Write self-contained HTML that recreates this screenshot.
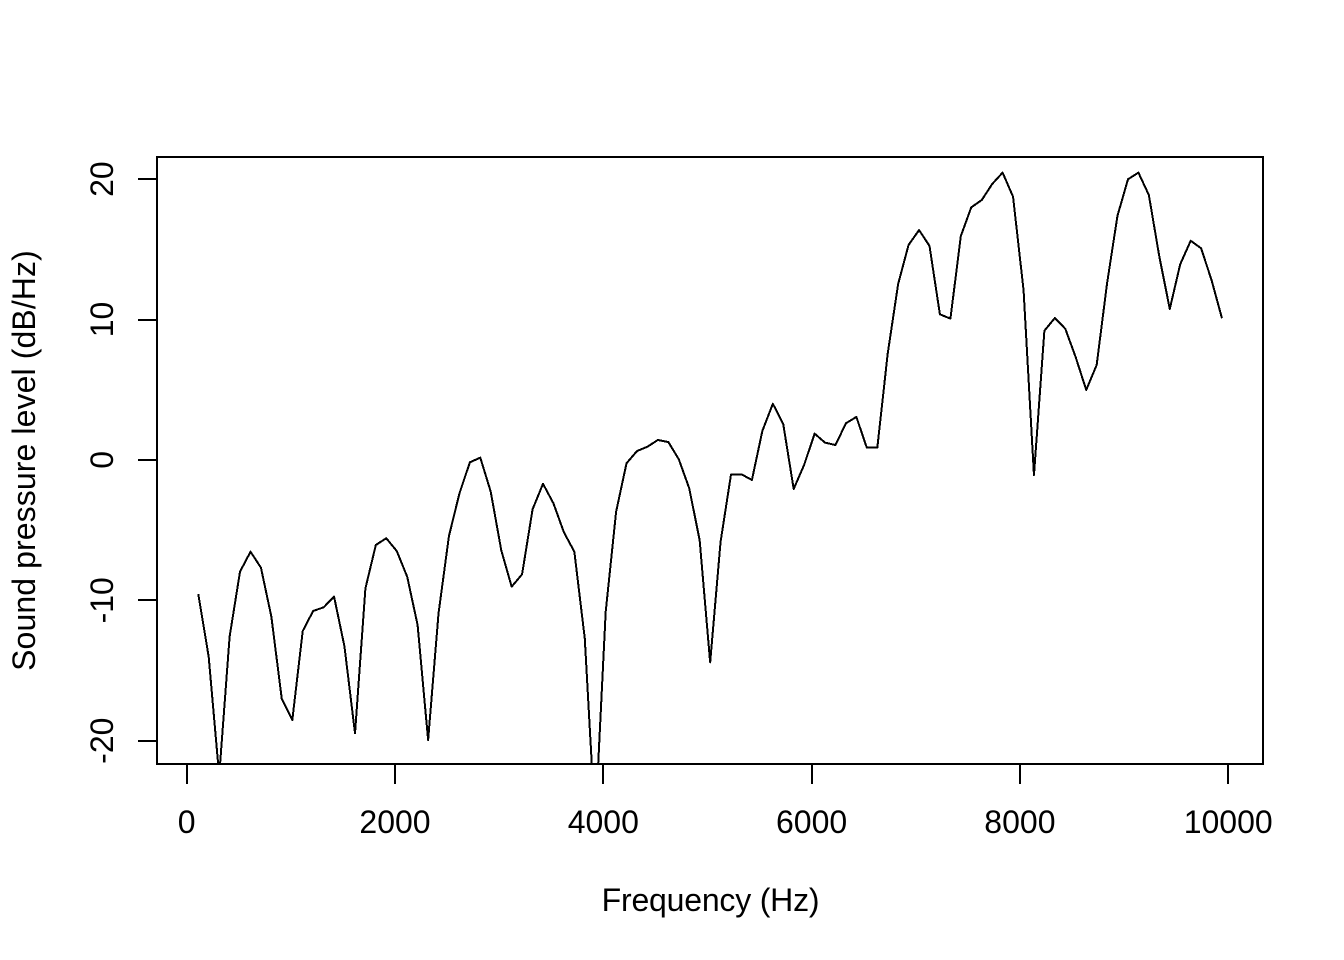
<!DOCTYPE html>
<html lang="en">
<head>
<meta charset="utf-8">
<title>Sound pressure level spectrum</title>
<style>
html,body{margin:0;padding:0;background:#fff;width:1344px;height:960px;overflow:hidden}
svg{display:block}
text{font-family:"Liberation Sans",Arial,sans-serif;font-size:32px;fill:#000}
line,rect,polyline{shape-rendering:crispEdges}
</style>
</head>
<body>
<svg id="chart" xmlns="http://www.w3.org/2000/svg" width="1344" height="960" viewBox="0 0 1344 960">
  <defs><clipPath id="plot-clip"><rect x="157" y="157" width="1106" height="607"></rect></clipPath></defs>
  <rect x="0" y="0" width="1344" height="960" fill="#fff"></rect>
  <g id="series" clip-path="url(#plot-clip)"></g>
  <rect x="157" y="157" width="1106" height="607" fill="none" stroke="#000" stroke-width="2"></rect>
  <g id="x-axis"></g>
  <g id="y-axis"></g>
  <text x="710.5" y="911" text-anchor="middle" style="letter-spacing:-0.2px">Frequency (Hz)</text>
  <text transform="translate(35 460.5) rotate(-90)" text-anchor="middle" style="letter-spacing:0.1px">Sound pressure level (dB/Hz)</text>
</svg>
<script>
const frequencies = [111,211,312,412,512,613,713,813,913,1014,1114,1214,1315,1415,1515,1616,1716,1816,1916,2017,2117,2217,2318,2418,2518,2619,2719,2819,2919,3020,3120,3220,3321,3421,3521,3622,3722,3822,3922,4023,4123,4223,4324,4424,4524,4625,4725,4825,4925,5026,5126,5226,5327,5427,5527,5628,5728,5828,5928,6029,6129,6229,6330,6430,6530,6631,6731,6831,6931,7032,7132,7232,7333,7433,7533,7634,7734,7834,7934,8035,8135,8235,8336,8436,8536,8637,8737,8837,8937,9038,9138,9238,9339,9439,9539,9640,9740,9840,9940];
const levels = [-9.55,-14.02,-22.5,-12.59,-7.96,-6.54,-7.68,-11.17,-17.03,-18.53,-12.19,-10.76,-10.50,-9.74,-13.30,-19.47,-9.15,-6.06,-5.58,-6.49,-8.32,-11.76,-19.95,-10.93,-5.42,-2.38,-0.17,0.16,-2.26,-6.42,-9.03,-8.15,-3.52,-1.70,-3.09,-5.16,-6.54,-12.71,-26,-10.81,-3.69,-0.24,0.63,0.94,1.42,1.27,0.04,-2.02,-5.71,-14.42,-5.83,-1.05,-1.03,-1.43,2.06,4.00,2.54,-2.07,-0.36,1.87,1.23,1.06,2.61,3.06,0.87,0.87,7.59,12.53,15.31,16.37,15.24,10.37,10.06,15.95,17.99,18.51,19.65,20.46,18.75,12.10,-1.08,9.20,10.11,9.34,7.31,4.98,6.76,12.58,17.39,19.99,20.46,18.87,14.47,10.75,13.93,15.61,15.07,12.81,10.09];
const xTicks = [0,2000,4000,6000,8000,10000];
const yTicks = [-20,-10,0,10,20];

const NS = 'http://www.w3.org/2000/svg';
const xScale = v => 186.7 + v * 0.10415;
const yScale = v => 459.9 - v * 14.04;
const STROKE = 2;

function make(tag, attrs, parent) {
  const el = document.createElementNS(NS, tag);
  for (const k in attrs) el.setAttribute(k, attrs[k]);
  parent.appendChild(el);
  return el;
}

const seriesLayer = document.getElementById('series');
const xAxis = document.getElementById('x-axis');
const yAxis = document.getElementById('y-axis');

const linePoints = frequencies.map((f, i) => xScale(f).toFixed(2) + ',' + yScale(levels[i]).toFixed(2)).join(' ');
const line = make('polyline', {points: linePoints, fill: 'none', stroke: '#000', 'stroke-width': STROKE, 'stroke-linejoin': 'round'}, seriesLayer);



const xLine = make('line', {x1: Math.round(xScale(xTicks[0])), x2: Math.round(xScale(xTicks[xTicks.length - 1])), y1: 764, y2: 764, stroke: '#000', 'stroke-width': STROKE}, xAxis);



xTicks.forEach(t => {
  const mark = make('line', {x1: Math.round(xScale(t)), x2: Math.round(xScale(t)), y1: 764, y2: 784, stroke: '#000', 'stroke-width': STROKE}, xAxis);
  
  
  const label = make('text', {x: xScale(t), y: 833, 'text-anchor': 'middle'}, xAxis);
  label.textContent = String(t);
  
  
});

const yLine = make('line', {x1: 157, x2: 157, y1: Math.round(yScale(yTicks[0])), y2: Math.round(yScale(yTicks[yTicks.length - 1])), stroke: '#000', 'stroke-width': STROKE}, yAxis);



yTicks.forEach(t => {
  const mark = make('line', {x1: 138, x2: 157, y1: Math.round(yScale(t)), y2: Math.round(yScale(t)), stroke: '#000', 'stroke-width': STROKE}, yAxis);
  
  
  const label = make('text', {transform: 'translate(113 ' + yScale(t) + ') rotate(-90)', 'text-anchor': 'middle'}, yAxis);
  label.textContent = String(t);
  
  
});
</script>
</body>
</html>
